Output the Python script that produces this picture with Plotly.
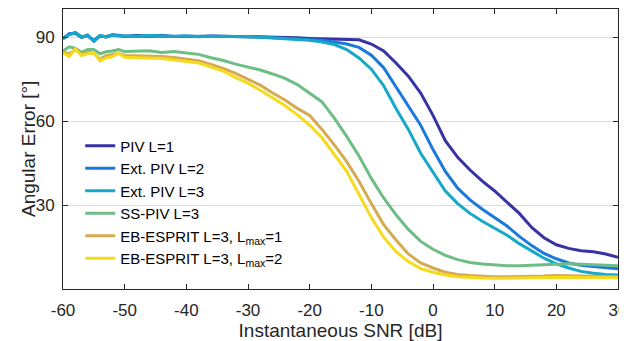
import plotly.graph_objects as go

snr = [-60, -59, -58, -57, -56, -55, -54, -53, -52, -51, -50,
       -48, -46, -44, -42, -40, -38, -36, -34, -32, -30, -28, -26, -24, -22,
       -20, -18, -16, -14, -12, -10, -8, -6, -4, -2, 0, 2, 4, 6, 8, 10,
       12, 14, 16, 18, 20, 22, 24, 26, 28, 30]

piv_l1 = [89.5, 91.0, 91.5, 90.0, 90.5, 88.7, 90.5, 90.0, 90.8, 90.5, 90.3,
          90.5, 90.3, 90.5, 90.2, 90.3, 90.2, 90.4, 90.3, 90.4, 90.3, 90.2, 90.0, 89.9, 89.7,
          89.5, 89.4, 89.3, 89.2, 89.0, 87.5, 85.0, 80.7, 76.0, 70.0, 62.0, 53.0, 47.0, 42.5, 38.5, 35.0,
          31.0, 27.0, 22.0, 18.3, 15.8, 14.5, 13.7, 13.3, 12.5, 11.3]

ext_piv_l2 = [89.3, 91.2, 91.3, 89.8, 90.7, 88.5, 90.3, 90.2, 90.6, 90.6, 90.2,
              90.4, 90.4, 90.3, 90.3, 90.2, 90.3, 90.3, 90.2, 90.3, 90.2, 90.0, 89.8, 89.6, 89.4,
              89.2, 88.8, 88.2, 87.5, 86.3, 83.5, 79.0, 72.3, 65.5, 58.5, 49.8, 42.0, 36.0, 31.8, 28.5, 25.5,
              22.5, 18.8, 15.5, 12.7, 10.8, 9.3, 8.5, 8.0, 7.5, 7.2]

ext_piv_l3 = [89.6, 90.8, 91.6, 90.1, 90.4, 88.6, 90.6, 89.9, 90.7, 90.4, 90.4,
              90.3, 90.5, 90.4, 90.2, 90.4, 90.1, 90.3, 90.3, 90.2, 90.1, 89.9, 89.6, 89.4, 89.1,
              88.8, 88.2, 87.3, 85.5, 82.5, 78.5, 72.6, 64.5, 57.0, 48.5, 41.5, 35.0, 30.5, 27.0, 24.2, 21.8,
              19.2, 16.2, 13.5, 11.0, 9.0, 7.5, 6.3, 5.6, 5.2, 5.0]

ss_piv_l3 = [85.0, 86.5, 86.0, 84.5, 85.5, 85.5, 84.0, 84.7, 85.0, 85.5, 84.8,
             85.0, 85.1, 84.5, 84.8, 84.3, 83.8, 82.6, 81.6, 80.3, 79.3, 78.2, 76.8, 75.2, 73.0,
             70.0, 66.8, 61.0, 54.5, 47.5, 39.5, 32.5, 26.5, 21.3, 17.0, 14.2, 12.0, 10.5, 9.5, 8.9, 8.5,
             8.3, 8.3, 8.5, 8.7, 8.9, 9.0, 8.8, 8.6, 8.4, 8.3]

eb_esprit_lmax1 = [84.7, 84.0, 85.5, 83.8, 84.6, 84.2, 82.0, 83.3, 83.8, 84.2, 83.4,
                   83.3, 83.2, 83.0, 82.7, 82.2, 81.5, 80.2, 78.8, 77.0, 75.0, 72.8, 70.0, 67.5, 64.5,
                   62.0, 57.0, 51.5, 45.5, 38.5, 30.5, 23.0, 17.5, 12.5, 9.3, 7.5, 6.0, 5.2, 4.8, 4.5, 4.4,
                   4.4, 4.4, 4.5, 4.6, 4.8, 4.7, 4.6, 4.5, 4.4, 4.4]

eb_esprit_lmax2 = [84.4, 83.0, 85.7, 83.4, 84.0, 84.4, 81.5, 82.5, 83.0, 84.2, 82.8,
                   82.6, 82.5, 82.3, 81.8, 81.3, 80.7, 79.3, 77.8, 75.5, 73.5, 71.0, 68.2, 65.5, 62.2,
                   58.5, 54.0, 48.0, 42.0, 33.8, 25.5, 18.5, 13.3, 9.8, 7.3, 6.0, 5.0, 4.4, 4.1, 3.9, 3.8,
                   3.8, 3.9, 4.0, 4.1, 4.2, 4.2, 4.1, 4.1, 4.0, 4.0]

series_names = ["PIV L=1", "Ext. PIV L=2", "Ext. PIV L=3", "SS-PIV L=3",
                "EB-ESPRIT L=3, L<sub>max</sub>=1", "EB-ESPRIT L=3, L<sub>max</sub>=2"]
series_values = [piv_l1, ext_piv_l2, ext_piv_l3, ss_piv_l3, eb_esprit_lmax1, eb_esprit_lmax2]
series_colors = ["#3633a5", "#1c79dc", "#16a8c9", "#6dbe84", "#d5ab52", "#f5da1d"]

x_ticks = [-60, -50, -40, -30, -20, -10, 0, 10, 20, 30]
y_ticks = [30, 60, 90]

FONT = "Liberation Sans, Arial, Helvetica, sans-serif"
AX = "#262626"

fig = go.Figure()
for name, vals, col in zip(series_names, series_values, series_colors):
    fig.add_trace(go.Scatter(x=snr, y=vals, mode="lines", name=name,
                             line=dict(color=col, width=3)))

fig.update_layout(
    width=619, height=333,
    margin=dict(l=55, r=9, t=1, b=52, autoexpand=False),
    paper_bgcolor="white", plot_bgcolor="white",
    font=dict(family=FONT, color=AX, size=17),
    showlegend=True,
    legend=dict(x=0.031, y=0.57, xanchor="left", yanchor="top",
                bgcolor="rgba(0,0,0,0)", borderwidth=0,
                font=dict(family=FONT, size=15, color="#000000"),
                tracegroupgap=0),
    annotations=[dict(text="Angular Error [°]", xref="paper", yref="paper",
                      x=-0.063, y=0.5, xanchor="center", yanchor="middle",
                      textangle=-90, showarrow=False,
                      font=dict(family=FONT, size=19, color=AX))],
)
fig.update_xaxes(range=[-60, 30], tickvals=x_ticks, ticktext=[str(v) for v in x_ticks],
                 automargin=False, ticklabeloverflow="allow", ticklabelstandoff=6,
                 showline=True, linecolor=AX, linewidth=1, mirror="ticks",
                 ticks="inside", ticklen=5, tickcolor=AX, showgrid=False, zeroline=False,
                 tickfont=dict(size=17, color=AX),
                 title=dict(text="Instantaneous SNR [dB]", font=dict(size=19, color=AX), standoff=3))
fig.update_yaxes(range=[0, 100], tickvals=y_ticks,
                 automargin=False, ticklabeloverflow="allow", ticklabelstandoff=4,
                 showline=True, linecolor=AX, linewidth=1, mirror="ticks",
                 ticks="inside", ticklen=5, tickcolor=AX, showgrid=True, gridcolor="#dcdcdc",
                 gridwidth=1, zeroline=False,
                 tickfont=dict(size=17, color=AX))

fig.write_html("out.html")
